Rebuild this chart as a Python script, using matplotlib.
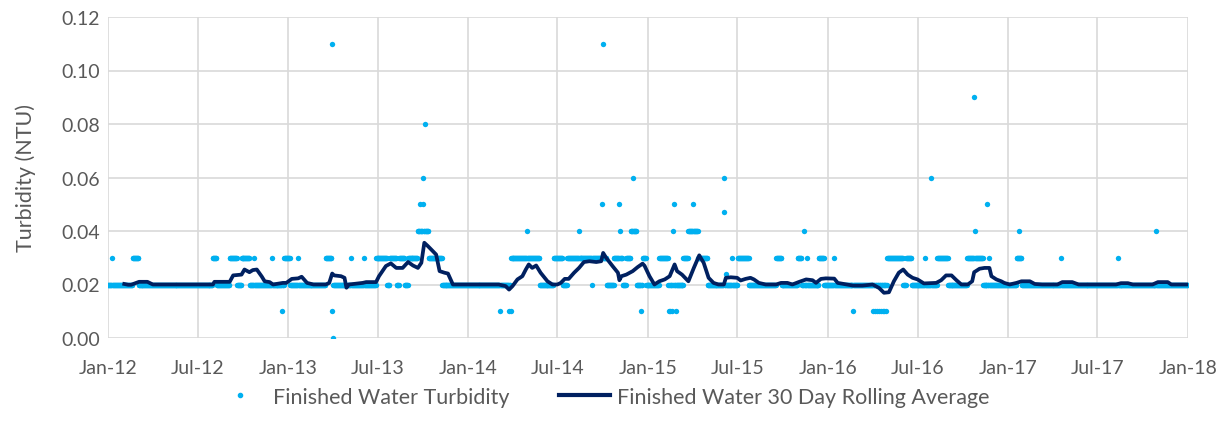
import pandas as pd
import matplotlib
matplotlib.use("Agg")
import matplotlib.pyplot as plt
import matplotlib.dates as mdates
from matplotlib.lines import Line2D

plt.rcParams['font.family'] = ['Lato', 'DejaVu Sans']

GREY = "#595959"
DOT_BLUE = "#00B0F0"
NAVY = "#002060"

START, END = "2012-01-01", "2017-12-31"
BASE_NTU = 0.02

# stretches of days reading 0.03 NTU
RUNS_003 = [
    ("2012-01-09", "2012-01-09"), ("2012-02-20", "2012-03-02"), ("2012-08-01", "2012-08-08"),
    ("2012-09-04", "2012-09-18"), ("2012-09-28", "2012-10-14"), ("2012-10-24", "2012-10-24"),
    ("2012-11-28", "2012-11-28"), ("2012-12-24", "2013-01-04"), ("2013-01-20", "2013-01-20"),
    ("2013-03-18", "2013-03-29"), ("2013-05-09", "2013-05-09"), ("2013-06-04", "2013-06-04"),
    ("2013-06-28", "2013-07-20"), ("2013-07-26", "2013-08-08"), ("2013-08-14", "2013-08-24"),
    ("2013-09-01", "2013-09-24"), ("2013-10-02", "2013-11-08"),
    ("2014-03-29", "2014-05-25"), ("2014-06-24", "2014-07-11"), ("2014-07-21", "2014-09-08"),
    ("2014-09-10", "2014-10-08"), ("2014-10-24", "2014-11-10"), ("2014-11-18", "2014-12-08"),
    ("2014-12-21", "2014-12-27"), ("2015-01-24", "2015-02-10"), ("2015-03-14", "2015-05-01"),
    ("2015-06-20", "2015-06-20"), ("2015-07-02", "2015-07-24"), ("2015-09-18", "2015-09-28"),
    ("2015-11-01", "2015-11-08"), ("2015-11-20", "2015-11-20"), ("2015-12-14", "2015-12-24"),
    ("2016-01-14", "2016-01-14"), ("2016-05-01", "2016-06-01"), ("2016-06-08", "2016-06-18"),
    ("2016-07-16", "2016-07-16"), ("2016-08-10", "2016-08-31"), ("2016-10-10", "2016-11-10"),
    ("2016-11-24", "2016-11-24"), ("2017-01-18", "2017-01-28"), ("2017-04-18", "2017-04-18"),
    ("2017-08-12", "2017-08-12"),
]

# stretches of days reading 0.04 NTU
RUNS_004 = [
    ("2013-09-21", "2013-10-12"), ("2014-11-27", "2014-12-08"), ("2015-03-24", "2015-04-12"),
]

# single readings off the usual levels
SPOT_DATES = [
    "2012-12-19", "2013-03-30", "2013-03-31", "2013-04-01",
    "2013-09-25", "2013-10-01", "2013-10-02", "2013-10-06",
    "2014-03-07", "2014-03-25", "2014-03-28", "2014-05-01", "2014-08-14",
    "2014-09-30", "2014-10-02", "2014-11-03", "2014-11-06", "2014-12-01", "2014-12-18",
    "2015-02-12", "2015-02-15", "2015-02-18", "2015-02-20", "2015-02-23", "2015-02-27",
    "2015-04-03", "2015-06-04", "2015-06-05", "2015-06-09", "2015-11-14",
    "2016-02-21", "2016-04-01", "2016-04-05", "2016-04-09", "2016-04-13", "2016-04-17",
    "2016-04-21", "2016-04-25", "2016-04-29", "2016-07-28",
    "2016-10-24", "2016-10-25", "2016-11-20", "2017-01-23", "2017-10-28",
]
SPOT_NTU = [
    0.01, 0.11, 0.01, 0.00,
    0.05, 0.06, 0.05, 0.08,
    0.01, 0.01, 0.01, 0.04, 0.04,
    0.05, 0.11, 0.05, 0.04, 0.06, 0.01,
    0.01, 0.01, 0.01, 0.04, 0.05, 0.01,
    0.05, 0.06, 0.047, 0.024, 0.04,
    0.01, 0.01, 0.01, 0.01, 0.01, 0.01,
    0.01, 0.01, 0.01, 0.06,
    0.09, 0.04, 0.05, 0.04, 0.04,
]

# 30 day rolling average
LINE_DATES = [
    "2012-02-03", "2012-02-11", "2012-02-17", "2012-03-04", "2012-03-21", "2012-04-01",
    "2012-08-01", "2012-08-04", "2012-09-04", "2012-09-11", "2012-09-28", "2012-10-04",
    "2012-10-14", "2012-10-21", "2012-10-29", "2012-11-08", "2012-11-14", "2012-11-24",
    "2012-12-01", "2012-12-21", "2012-12-28", "2013-01-08", "2013-01-21", "2013-01-28",
    "2013-02-08", "2013-02-21", "2013-03-18", "2013-03-25", "2013-03-31", "2013-04-04",
    "2013-04-18", "2013-04-25", "2013-04-29", "2013-05-04", "2013-06-01", "2013-06-08",
    "2013-06-28", "2013-07-04", "2013-07-18", "2013-07-28", "2013-08-08", "2013-08-21",
    "2013-09-01", "2013-09-11", "2013-09-21", "2013-09-28", "2013-10-04", "2013-10-11",
    "2013-10-18", "2013-10-28", "2013-11-04", "2013-11-14", "2013-11-21", "2013-12-01",
    "2014-03-04", "2014-03-18", "2014-03-25", "2014-04-01", "2014-04-11", "2014-04-21",
    "2014-04-28", "2014-05-04", "2014-05-11", "2014-05-19", "2014-05-28", "2014-06-11",
    "2014-06-21", "2014-07-01", "2014-07-08", "2014-07-16", "2014-07-24", "2014-08-04",
    "2014-08-14", "2014-08-24", "2014-09-04", "2014-09-18", "2014-09-28", "2014-10-02",
    "2014-10-08", "2014-10-21", "2014-11-01", "2014-11-04", "2014-11-08", "2014-11-18",
    "2014-12-01", "2014-12-11", "2014-12-21", "2014-12-25", "2015-01-04", "2015-01-14",
    "2015-01-24", "2015-02-04", "2015-02-14", "2015-02-24", "2015-03-01", "2015-03-11",
    "2015-03-24", "2015-04-04", "2015-04-15", "2015-04-24", "2015-05-04", "2015-05-14",
    "2015-05-24", "2015-06-04", "2015-06-08", "2015-06-18", "2015-07-01", "2015-07-08",
    "2015-07-18", "2015-07-28", "2015-08-04", "2015-08-14", "2015-08-28", "2015-09-18",
    "2015-09-28", "2015-10-11", "2015-10-21", "2015-11-04", "2015-11-18", "2015-12-01",
    "2015-12-08", "2015-12-18", "2015-12-28", "2016-01-14", "2016-01-21", "2016-02-08",
    "2016-02-21", "2016-03-11", "2016-04-01", "2016-04-14", "2016-04-24", "2016-05-04",
    "2016-05-14", "2016-05-24", "2016-06-02", "2016-06-11", "2016-06-21", "2016-07-01",
    "2016-07-14", "2016-08-08", "2016-08-18", "2016-08-28", "2016-09-08", "2016-09-18",
    "2016-09-28", "2016-10-11", "2016-10-20", "2016-10-24", "2016-11-04", "2016-11-14",
    "2016-11-24", "2016-11-28", "2016-12-08", "2016-12-18", "2016-12-24", "2017-01-04",
    "2017-01-18", "2017-01-28", "2017-02-14", "2017-02-24", "2017-03-11", "2017-04-11",
    "2017-04-21", "2017-05-11", "2017-05-24", "2017-08-08", "2017-08-18", "2017-09-01",
    "2017-09-11", "2017-10-21", "2017-11-01", "2017-11-21", "2017-11-28", "2017-12-31",
]
LINE_NTU = [
    0.0202, 0.0199, 0.0199, 0.0210, 0.0210, 0.0200,
    0.0200, 0.0210, 0.0210, 0.0234, 0.0237, 0.0256,
    0.0246, 0.0254, 0.0256, 0.0230, 0.0212, 0.0209,
    0.0200, 0.0206, 0.0206, 0.0221, 0.0223, 0.0229,
    0.0206, 0.0200, 0.0200, 0.0206, 0.0241, 0.0234,
    0.0231, 0.0225, 0.0188, 0.0200, 0.0206, 0.0209,
    0.0209, 0.0231, 0.0269, 0.0279, 0.0262, 0.0262,
    0.0284, 0.0271, 0.0262, 0.0281, 0.0356, 0.0344,
    0.0331, 0.0312, 0.0250, 0.0244, 0.0241, 0.0200,
    0.0200, 0.0194, 0.0181, 0.0194, 0.0219, 0.0231,
    0.0256, 0.0275, 0.0262, 0.0271, 0.0244, 0.0212,
    0.0200, 0.0200, 0.0206, 0.0221, 0.0221, 0.0244,
    0.0262, 0.0284, 0.0287, 0.0284, 0.0287, 0.0318,
    0.0300, 0.0269, 0.0244, 0.0216, 0.0231, 0.0237,
    0.0250, 0.0265, 0.0278, 0.0270, 0.0231, 0.0200,
    0.0212, 0.0219, 0.0231, 0.0275, 0.0250, 0.0237,
    0.0212, 0.0262, 0.0309, 0.0281, 0.0225, 0.0206,
    0.0200, 0.0200, 0.0225, 0.0227, 0.0225, 0.0215,
    0.0221, 0.0225, 0.0219, 0.0206, 0.0200, 0.0200,
    0.0206, 0.0206, 0.0200, 0.0210, 0.0219, 0.0216,
    0.0206, 0.0221, 0.0223, 0.0222, 0.0206, 0.0200,
    0.0196, 0.0196, 0.0200, 0.0187, 0.0169, 0.0171,
    0.0212, 0.0244, 0.0256, 0.0237, 0.0225, 0.0219,
    0.0204, 0.0206, 0.0216, 0.0234, 0.0234, 0.0216,
    0.0200, 0.0200, 0.0212, 0.0246, 0.0259, 0.0262,
    0.0262, 0.0231, 0.0219, 0.0212, 0.0206, 0.0200,
    0.0206, 0.0212, 0.0212, 0.0202, 0.0200, 0.0200,
    0.0209, 0.0209, 0.0200, 0.0200, 0.0205, 0.0205,
    0.0200, 0.0200, 0.0209, 0.0209, 0.0200, 0.0200,
]

days = pd.date_range(START, END, freq="D")
turb = pd.Series(BASE_NTU, index=days)
for a, b in RUNS_003:
    turb[a:b] = 0.03
for a, b in RUNS_004:
    turb[a:b] = 0.04
for d, v in zip(SPOT_DATES, SPOT_NTU):
    turb[pd.Timestamp(d)] = v

fig = plt.figure(figsize=(12.32, 4.35), dpi=100)
ax = fig.add_axes([108 / 1232, 1 - 339 / 435, 1080 / 1232, 321 / 435])

ax.scatter(turb.index, turb.values, s=15, color=DOT_BLUE, linewidths=0, zorder=2)
ax.plot(pd.to_datetime(LINE_DATES), LINE_NTU, color=NAVY, lw=2.7, zorder=3)

ax.set_xlim(pd.Timestamp("2012-01-01"), pd.Timestamp("2018-01-01"))
ax.set_ylim(0, 0.12)
ax.set_yticks([0, 0.02, 0.04, 0.06, 0.08, 0.10, 0.12])
ax.yaxis.set_major_formatter(plt.FormatStrFormatter("%.2f"))
ax.xaxis.set_major_locator(mdates.MonthLocator(bymonth=[1, 7]))
ax.xaxis.set_major_formatter(mdates.DateFormatter("%b-%y"))

ax.grid(True, color="#D9D9D9", lw=1.2)
ax.set_axisbelow(True)
for s in ax.spines.values():
    s.set_visible(False)
ax.tick_params(length=0, labelsize=14, colors=GREY)
ax.tick_params(axis="x", pad=15)
ax.tick_params(axis="y", pad=6)
ax.set_ylabel("Turbidity (NTU)", fontsize=15.5, color=GREY, labelpad=18)

handles = [
    Line2D([], [], marker="o", ls="none", color=DOT_BLUE, markersize=3),
    Line2D([], [], color=NAVY, lw=3),
]
fig.legend(handles, ["Finished Water Turbidity", "Finished Water 30 Day Rolling Average"],
           loc="center", bbox_to_anchor=(602 / 1232, 1 - 398 / 435), ncol=2, frameon=False,
           fontsize=15.5, labelcolor=GREY, columnspacing=2.3, handlelength=2.4,
           handletextpad=0.3)

fig.savefig("out.png", dpi=100)
